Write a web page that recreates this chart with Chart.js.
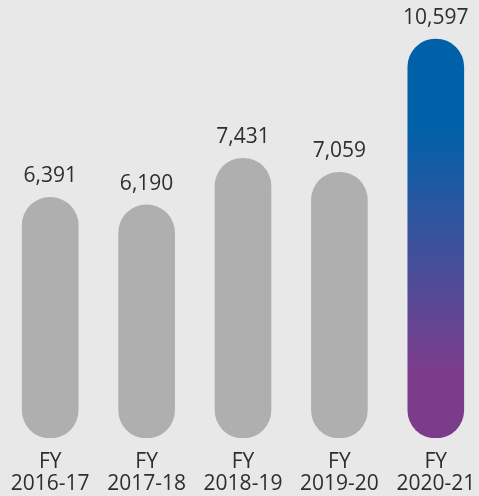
<!DOCTYPE html>
<html>
<head>
<meta charset="utf-8">
<script src="https://cdn.jsdelivr.net/npm/chart.js@4/dist/chart.umd.min.js"></script>
<style>
  html, body { margin: 0; padding: 0; background: #e8e8e8; overflow: hidden; }
  #chart { position: absolute; left: 0; top: 0; }
</style>
</head>
<body>
<canvas id="chart" width="484" height="496"></canvas>
<script>
const fiscalYears = ['FY 2016-17', 'FY 2017-18', 'FY 2018-19', 'FY 2019-20', 'FY 2020-21'];
const tickLines = [['FY', '2016-17'], ['FY', '2017-18'], ['FY', '2018-19'], ['FY', '2019-20'], ['FY', '2020-21']];
const values = [6391, 6190, 7431, 7059, 10597];
const valueLabels = ['6,391', '6,190', '7,431', '7,059', '10,597'];

const FONT = '"Open Sans", sans-serif';

// gradient for the last (highlighted) bar
function barColor(ctx) {
    if (ctx.dataIndex !== values.length - 1) return '#afafaf';
    const chart = ctx.chart;
    const area = chart.chartArea;
    if (!area) return '#0061a8';
    const y = chart.scales.y;
    const top = y.getPixelForValue(values[ctx.dataIndex]);
    const bottom = y.getPixelForValue(0);
    const g = chart.ctx.createLinearGradient(0, top, 0, bottom);
    g.addColorStop(0, '#0061a8');
    g.addColorStop(0.22, '#0061a8');
    g.addColorStop(0.5, '#3a529c');
    g.addColorStop(0.83, '#7b3d8b');
    g.addColorStop(1, '#7b3d8b');
    return g;
}

// values above the bars
const topLabels = {
    id: 'topLabels',
    afterDatasetsDraw(chart) {
        const c = chart.ctx;
        const meta = chart.getDatasetMeta(0);
        c.save();
        c.font = '21px ' + FONT;
        c.fillStyle = '#2e2e2e';
        c.textAlign = 'center';
        c.textBaseline = 'middle';
        meta.data.forEach((bar, i) => {
            c.fillText(valueLabels[i], bar.x, bar.y - 21);
        });
        c.restore();
    }
};

new Chart(document.getElementById('chart'), {
    type: 'bar',
    data: {
        labels: fiscalYears,
        datasets: [{
            data: values,
            backgroundColor: barColor,
            borderRadius: 28,
            borderSkipped: false,
            barThickness: 56
        }]
    },
    options: {
        responsive: false,
        animation: false,
        layout: { padding: { left: 2, right: 0, top: 0, bottom: 0 } },
        plugins: { legend: { display: false }, tooltip: { enabled: false } },
        scales: {
            x: {
                grid: { display: false, drawTicks: false },
                border: { display: false },
                afterFit: s => {
                    s.height = 58;
                    s.paddingLeft = 0;
                    s.paddingRight = 0;
                },
                ticks: {
                    padding: 13,
                    color: '#2e2e2e',
                    font: { family: FONT, size: 21, lineHeight: 1.05 },
                    maxRotation: 0,
                    autoSkip: false,
                    callback: (v, i) => tickLines[i]
                }
            },
            y: {
                display: false,
                min: 0,
                max: 11633
            }
        }
    },
    plugins: [topLabels]
});
</script>
</body>
</html>
